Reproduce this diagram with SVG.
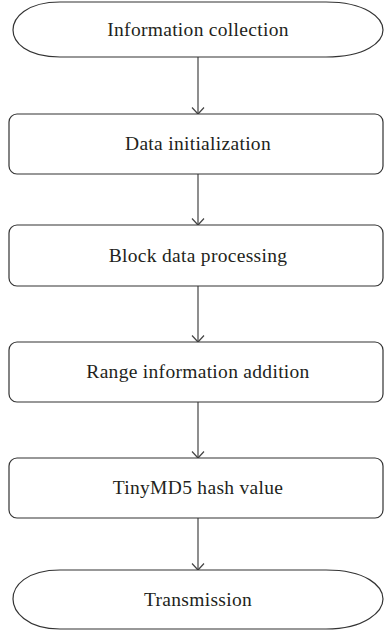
<svg xmlns="http://www.w3.org/2000/svg" width="384" height="633" viewBox="0 0 384 633">
<style>
.n{fill:#fff;stroke:#333;stroke-width:1.2}
.t{font-family:"Liberation Serif","Times New Roman",serif;font-size:19.5px;letter-spacing:0.3px;fill:#231f20;text-anchor:middle}
.c line{stroke:#444;stroke-width:1.2}
</style>
<defs>
<marker id="ah" markerWidth="10" markerHeight="14" refX="8" refY="7" orient="auto" markerUnits="userSpaceOnUse" viewBox="0 0 10 14">
<path d="M1.5,1 L8,7 L1.5,13" fill="none" stroke="#444" stroke-width="1.2"/>
</marker>
</defs>
<rect width="384" height="633" fill="#fff"/>
<g class="c" id="connectors">
<line x1="198" y1="57" x2="198" y2="114" marker-end="url(#ah)"/>
<line x1="198" y1="174" x2="198" y2="225" marker-end="url(#ah)"/>
<line x1="198" y1="286" x2="198" y2="342" marker-end="url(#ah)"/>
<line x1="198" y1="402" x2="198" y2="458" marker-end="url(#ah)"/>
<line x1="198" y1="518" x2="198" y2="570" marker-end="url(#ah)"/>
</g>
<g id="n1">
<path class="n" d="M60,2 H326 C366,2 383,18 383,30 C383,42 366,57 326,57 H60 C26,57 13,42 13,30 C13,18 26,2 60,2 Z"/>
<text class="t" x="198" y="36">Information collection</text>
</g>
<g id="n2">
<rect class="n" x="9" y="114" width="374" height="60" rx="8"/>
<text class="t" x="198" y="150">Data initialization</text>
</g>
<g id="n3">
<rect class="n" x="9" y="225" width="374" height="61" rx="8"/>
<text class="t" x="198" y="261.5">Block data processing</text>
</g>
<g id="n4">
<rect class="n" x="9" y="342" width="374" height="60" rx="8"/>
<text class="t" x="198" y="378">Range information addition</text>
</g>
<g id="n5">
<rect class="n" x="9" y="458" width="374" height="60" rx="8"/>
<text class="t" x="198" y="494">TinyMD5 hash value</text>
</g>
<g id="n6">
<path class="n" d="M60,570 H326 C366,570 383,586 383,599 C383,611 366,629 326,629 H60 C26,629 13,611 13,599 C13,586 26,570 60,570 Z"/>
<text class="t" x="198" y="605.5">Transmission</text>
</g>
</svg>
